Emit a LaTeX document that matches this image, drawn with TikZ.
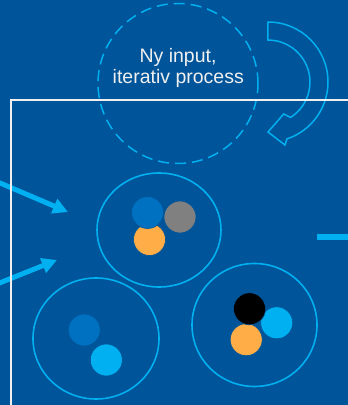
\documentclass[tikz,border=0pt]{standalone}
\usepackage{fontspec}
\setmainfont{Liberation Sans}
\usetikzlibrary{shapes.geometric,arrows.meta}
\definecolor{bg}{RGB}{0,84,153}
\definecolor{cy}{RGB}{0,176,240}
\definecolor{bl}{RGB}{0,112,192}
\definecolor{gr}{RGB}{128,128,128}
\definecolor{orng}{RGB}{255,173,71}
\definecolor{frame}{RGB}{240,240,240}
\begin{document}
\begin{tikzpicture}[x=1pt,y=1pt,
  ring/.style={draw=cy,line width=1.6pt,ellipse,inner sep=0pt},
  dot/.style={circle,inner sep=0pt,minimum size=32pt,draw=bg,line width=0.6pt},
  feed/.style={draw=cy,line width=5pt,-{Triangle[length=15pt,width=15pt]}},
  lbl/.style={text=frame,font=\fontsize{19.5}{21.6}\selectfont,inner sep=0pt,anchor=base},
  loopring/.style={circle,draw=cy,line width=1.5pt,dash pattern=on 11pt off 6pt,minimum size=160pt,inner sep=0pt}]
\useasboundingbox (0,0) rectangle (348,405);
\fill[bg] (0,0) rectangle (348,405);
\begin{scope}
\clip (0,0) rectangle (348,405);
% iteration loop
\node[loopring] (loop) at (178,321.5) {};
\node[lbl] (t1) at (178,342.5) {Ny input,};
\node[lbl] (t2) at (178.3,321.8) {iterativ process};
\draw[cy,line width=1.5pt,line join=miter]
  (268,383) arc[start angle=90,end angle=-71.6,radius=60]
  -- (285,260) -- (268,273) -- (283.7,291) -- (290.6,287.6)
  arc[start angle=-57.4,end angle=90,radius=42] -- cycle;
% clusters
\node[ring,minimum width=124pt,minimum height=114pt] (c1) at (159,175) {};
\node[ring,minimum width=126pt,minimum height=121pt] (c2) at (96,66.5) {};
\node[ring,minimum width=125pt,minimum height=123pt] (c3) at (254.5,80) {};
\node[dot,fill=orng] (c1o) at (149.5,165.5) {};
\node[dot,fill=bl] (c1b) at (147.5,192.5) {};
\node[dot,fill=gr] (c1g) at (180,188) {};
\node[dot,fill=bl] (c2b) at (84.2,75) {};
\node[dot,fill=cy] (c2c) at (106.3,45) {};
\node[dot,fill=cy] (c3c) at (276.7,82.2) {};
\node[dot,fill=orng] (c3o) at (246.2,65.3) {};
\node[dot,fill=black] (c3k) at (249.5,96.2) {};
% inputs
\coordinate (in1) at (-3,223.3);
\coordinate (in1e) at (68,193);
\coordinate (in2) at (-3,121);
\coordinate (in2e) at (57,145);
\draw[feed] (in1) -- (in1e);
\draw[feed] (in2) -- (in2e);
% frame
\draw[frame,line width=1.5pt] (352,305) -- (10.8,305) -- (10.8,-3);
% output
\coordinate (out1) at (316.7,168);
\coordinate (out1e) at (352,168);
\draw[cy,line width=5.7pt] (out1) -- (out1e);
\end{scope}
\end{tikzpicture}
\end{document}
